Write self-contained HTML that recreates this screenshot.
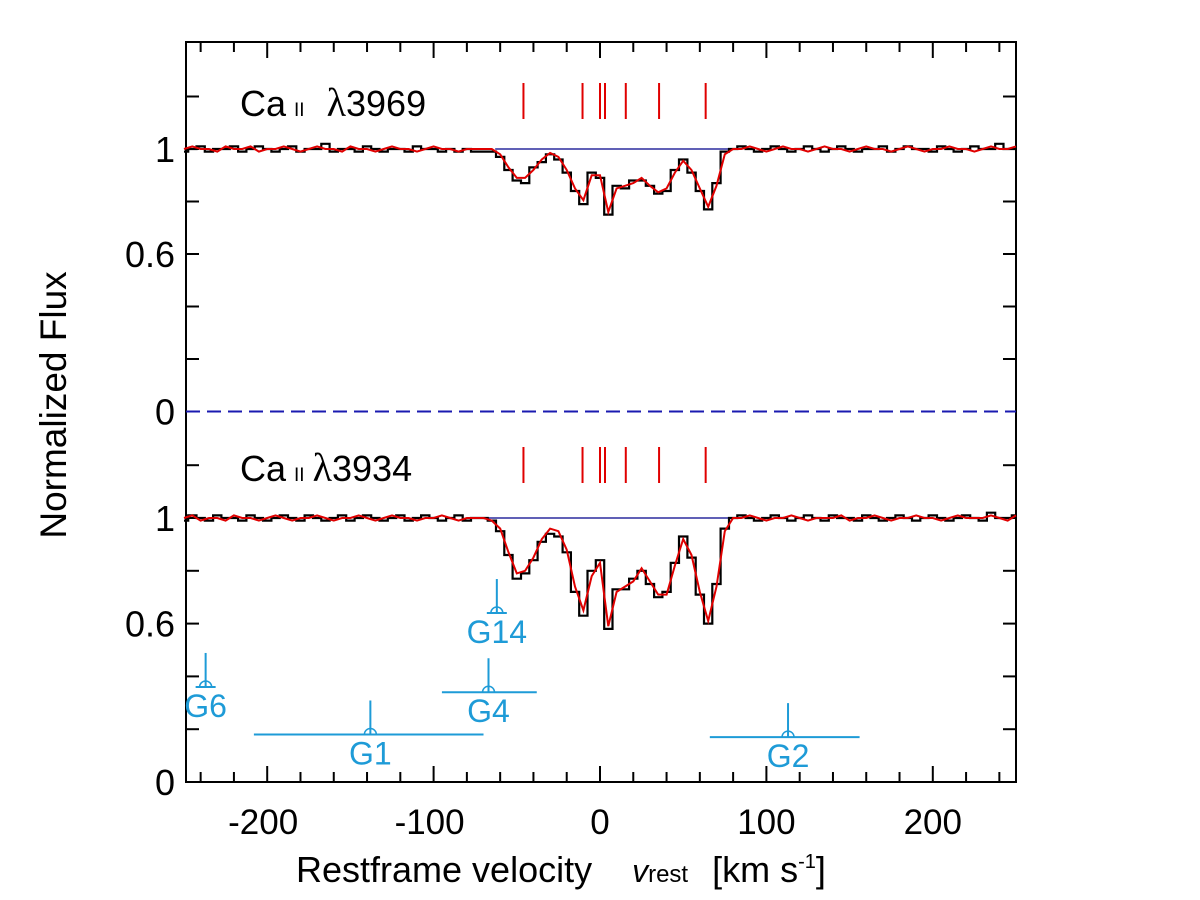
<!DOCTYPE html>
<html><head><meta charset="utf-8"><style>
html,body{margin:0;padding:0;background:#fff;}
svg{display:block;font-family:"Liberation Sans",Arial,sans-serif;}
</style></head><body>
<svg id="chart" width="1200" height="900" viewBox="0 0 1200 900">
<g id="plot"></g>
<text x="66" y="405" font-size="37" text-anchor="middle" transform="rotate(-90 66 405)">Normalized Flux</text>
<text x="296" y="882" font-size="36">Restframe velocity <tspan dx="30" font-style="italic" font-size="32">v</tspan><tspan font-size="24">rest</tspan><tspan dx="24">[km s</tspan><tspan font-size="20" dy="-14">-1</tspan><tspan dy="14">]</tspan></text>
<text x="240" y="116" font-size="36">Ca<tspan font-size="19" dx="8">II</tspan><tspan dx="22" font-family="Liberation Serif,serif" font-size="40">λ</tspan>3969</text>
<text x="240" y="481" font-size="36">Ca<tspan font-size="19" dx="8">II</tspan><tspan dx="8" font-family="Liberation Serif,serif" font-size="40">λ</tspan>3934</text>
</svg>
<script>
const vStart = -250, vStep = 5;
const components = [-46, -10.5, 0, 3, 15.5, 35.5, 63.5];
const xTicks = [-200, -100, 0, 100, 200];
const yTickLabels = ["1", "0.6", "0"];
const yTickValues = [1, 0.6, 0];
const lowerModel = [1.00,1.01,0.99,1.00,1.00,0.99,1.01,1.00,1.00,0.99,1.00,1.01,1.00,0.99,1.00,1.00,1.01,1.00,0.99,1.00,1.00,1.01,1.00,0.99,1.00,1.01,1.00,1.00,0.99,1.00,1.00,1.01,1.00,0.99,1.00,1.00,
1.00,0.99,0.96,0.87,0.79,0.80,0.85,0.92,0.96,0.95,0.88,0.74,0.65,0.78,0.83,0.59,0.72,0.74,0.76,0.81,0.76,0.71,0.71,0.82,0.92,0.86,0.72,0.61,0.74,0.95,1.00,
1.00,1.01,1.00,0.99,1.00,1.00,1.01,1.00,0.99,1.00,1.00,1.00,1.01,0.99,1.00,1.00,1.01,1.00,0.99,1.00,1.00,1.01,1.00,1.00,0.99,1.00,1.01,1.00,1.00,1.00,1.01,1.00,0.99,1.01];
const lowerData = [0.99,1.01,1.00,0.99,1.01,1.00,1.00,0.99,1.01,1.00,0.99,1.00,1.01,1.00,0.99,1.01,1.00,0.99,1.00,1.01,0.99,1.00,1.01,1.00,0.99,1.00,1.01,0.99,1.00,1.01,1.00,0.99,1.00,1.01,0.99,1.00,
1.00,0.99,0.95,0.86,0.77,0.79,0.84,0.91,0.94,0.93,0.87,0.72,0.63,0.80,0.84,0.58,0.73,0.73,0.77,0.80,0.75,0.70,0.72,0.83,0.93,0.85,0.71,0.60,0.75,0.96,1.00,
1.01,1.00,0.99,1.00,1.01,1.00,0.99,1.00,1.01,1.00,0.99,1.01,1.00,1.00,0.99,1.01,1.00,0.99,1.00,1.01,1.00,0.99,1.00,1.01,1.00,0.99,1.00,1.01,1.00,0.99,1.02,1.00,1.00,1.01];
const upperModel = [1.00,1.01,1.00,1.00,0.99,1.01,1.00,1.00,1.01,0.99,1.00,1.00,1.01,1.00,0.99,1.00,1.01,1.00,1.00,0.99,1.01,1.00,1.00,0.99,1.00,1.01,1.00,1.00,0.99,1.00,1.01,1.00,1.00,0.99,1.00,1.00,
1.00,1.00,0.98,0.93,0.89,0.89,0.92,0.96,0.985,0.97,0.92,0.85,0.805,0.90,0.90,0.76,0.85,0.86,0.87,0.89,0.86,0.835,0.85,0.91,0.955,0.92,0.85,0.78,0.86,0.98,1.00,
1.00,1.01,1.00,0.99,1.00,1.01,1.00,1.00,0.99,1.00,1.01,1.00,1.00,0.99,1.00,1.01,1.00,1.00,0.99,1.00,1.01,1.00,0.99,1.00,1.00,1.01,1.00,1.00,0.99,1.00,1.01,1.00,1.00,1.01];
const upperData = [0.99,1.00,1.01,0.99,1.00,1.00,1.01,0.99,1.00,1.01,1.00,0.99,1.00,1.01,0.99,1.00,1.00,1.02,0.99,1.00,1.00,0.99,1.01,1.00,0.99,1.00,1.00,0.99,1.01,1.00,1.00,0.99,1.00,0.99,1.00,0.99,
0.99,0.99,0.97,0.92,0.88,0.87,0.93,0.95,0.98,0.96,0.91,0.84,0.79,0.91,0.89,0.75,0.86,0.85,0.88,0.88,0.86,0.83,0.84,0.92,0.96,0.91,0.84,0.77,0.87,0.99,1.00,
1.01,1.00,0.99,1.00,1.01,1.00,0.99,1.00,1.01,1.00,0.99,1.00,1.01,1.00,0.99,1.00,1.00,1.01,0.99,1.00,1.01,1.00,1.00,0.99,1.01,1.00,0.99,1.00,1.01,1.00,1.00,1.02,1.00,1.00];
const galNames = ["G6", "G14", "G4", "G1", "G2"];
const galVel = [-237, -62, -67, -138, 113];
const galLow = [-237, -62, -95, -208, 66];
const galHigh = [-237, -62, -38, -70, 156];
const galBarY = [0.36, 0.64, 0.34, 0.18, 0.17];

const L = 186, R = 1016, T = 42, B = 782;
const xs = v => 600 + 1.664 * v;
const yUp = f => 411.5 - 262.5 * f;
const yLo = f => 782 - 264 * f;
const NS = "http://www.w3.org/2000/svg";
const plot = document.getElementById('plot');
function mk(tag, attrs) { const e = document.createElementNS(NS, tag); for (const k in attrs) e.setAttribute(k, attrs[k]); plot.appendChild(e); return e; }

let fr = mk('rect', {x: L, y: T, width: R - L, height: B - T, fill: 'none', stroke: '#000', 'stroke-width': 2});


for (let v = -240; v <= 240; v += 20) {
  const major = v % 100 === 0, len = major ? 16 : 10, x = xs(v);
  let t1 = mk('line', {x1: x, x2: x, y1: B, y2: B - len, stroke: '#000', 'stroke-width': 2});
  
  
  let t2 = mk('line', {x1: x, x2: x, y1: T, y2: T + len, stroke: '#000', 'stroke-width': 2});
  
  
}
xTicks.forEach(v => {
  let t = mk('text', {x: xs(v) - (v < 0 ? 4 : 0), y: 834, 'font-size': 35, 'text-anchor': 'middle'});
  t.textContent = v;
  
  
});
[yUp, yLo].forEach((fy, pi) => {
  for (let f = 0.2; f <= 1.21; f += 0.2) {
    const y = fy(f);
    let a = mk('line', {x1: L, x2: L + 13, y1: y, y2: y, stroke: '#000', 'stroke-width': 2});
    
    
    let b = mk('line', {x1: R, x2: R - 13, y1: y, y2: y, stroke: '#000', 'stroke-width': 2});
    
    
  }
  yTickValues.forEach((f, i) => {
    let t = mk('text', {x: 175, y: fy(f) + 13, 'font-size': 36, 'text-anchor': 'end'});
    t.textContent = yTickLabels[i];
    
    
  });
});
let dz = mk('line', {x1: L, x2: R, y1: yUp(0), y2: yUp(0), stroke: '#1a1ab0', 'stroke-width': 2, 'stroke-dasharray': '14 7'});


let c1 = mk('line', {x1: xs(-63), x2: xs(77), y1: yUp(1), y2: yUp(1), stroke: '#00008b', 'stroke-width': 1.3});


let c2 = mk('line', {x1: xs(-70), x2: xs(78), y1: yLo(1), y2: yLo(1), stroke: '#00008b', 'stroke-width': 1.3});


function stepPath(arr, fy) {
  let d = '';
  arr.forEach((f, i) => {
    const v = vStart + i * vStep;
    const x0 = xs(Math.max(-250, v - vStep / 2)), x1 = xs(Math.min(250, v + vStep / 2));
    d += (i ? 'L' : 'M') + x0.toFixed(1) + ' ' + fy(f).toFixed(1) + ' L' + x1.toFixed(1) + ' ' + fy(f).toFixed(1) + ' ';
  });
  return d;
}
function linePath(arr, fy) {
  return arr.map((f, i) => (i ? 'L' : 'M') + xs(vStart + i * vStep).toFixed(1) + ' ' + fy(f).toFixed(1)).join(' ');
}
let p1 = mk('path', {d: stepPath(upperData, yUp), fill: 'none', stroke: '#000', 'stroke-width': 2.2});


let p2 = mk('path', {d: linePath(upperModel, yUp), fill: 'none', stroke: '#e00000', 'stroke-width': 2});


let p3 = mk('path', {d: stepPath(lowerData, yLo), fill: 'none', stroke: '#000', 'stroke-width': 2.2});


let p4 = mk('path', {d: linePath(lowerModel, yLo), fill: 'none', stroke: '#e00000', 'stroke-width': 2});


components.forEach(v => {
  [[83, 119], [447, 483]].forEach(r => {
    let l = mk('line', {x1: xs(v), x2: xs(v), y1: r[0], y2: r[1], stroke: '#e00000', 'stroke-width': 2});
    
    
  });
});
const gc = '#1e9bd7';
galNames.forEach((n, i) => {
  const x = xs(galVel[i]), y = yLo(galBarY[i]);
  const g = document.createElementNS(NS, 'g');
  
  
  plot.appendChild(g);
  const w = Math.max(xs(galHigh[i]) - xs(galLow[i]), 20);
  const x0 = galHigh[i] === galLow[i] ? x - 10 : xs(galLow[i]);
  [['line', {x1: x0, x2: x0 + w, y1: y, y2: y, stroke: gc, 'stroke-width': 2}],
   ['line', {x1: x, x2: x, y1: y - 34, y2: y, stroke: gc, 'stroke-width': 2}],
   ['path', {d: `M${x - 6} ${y} A6 6 0 0 1 ${x + 6} ${y}`, fill: 'none', stroke: gc, 'stroke-width': 1.5}]
  ].forEach(s => { const e = document.createElementNS(NS, s[0]); for (const k in s[1]) e.setAttribute(k, s[1][k]); g.appendChild(e); });
  const t = document.createElementNS(NS, 'text');
  t.setAttribute('x', x); t.setAttribute('y', y + 30); t.setAttribute('fill', gc);
  t.setAttribute('font-size', 32); t.setAttribute('text-anchor', 'middle');
  t.textContent = n;
  g.appendChild(t);
});
</script>
</body></html>
